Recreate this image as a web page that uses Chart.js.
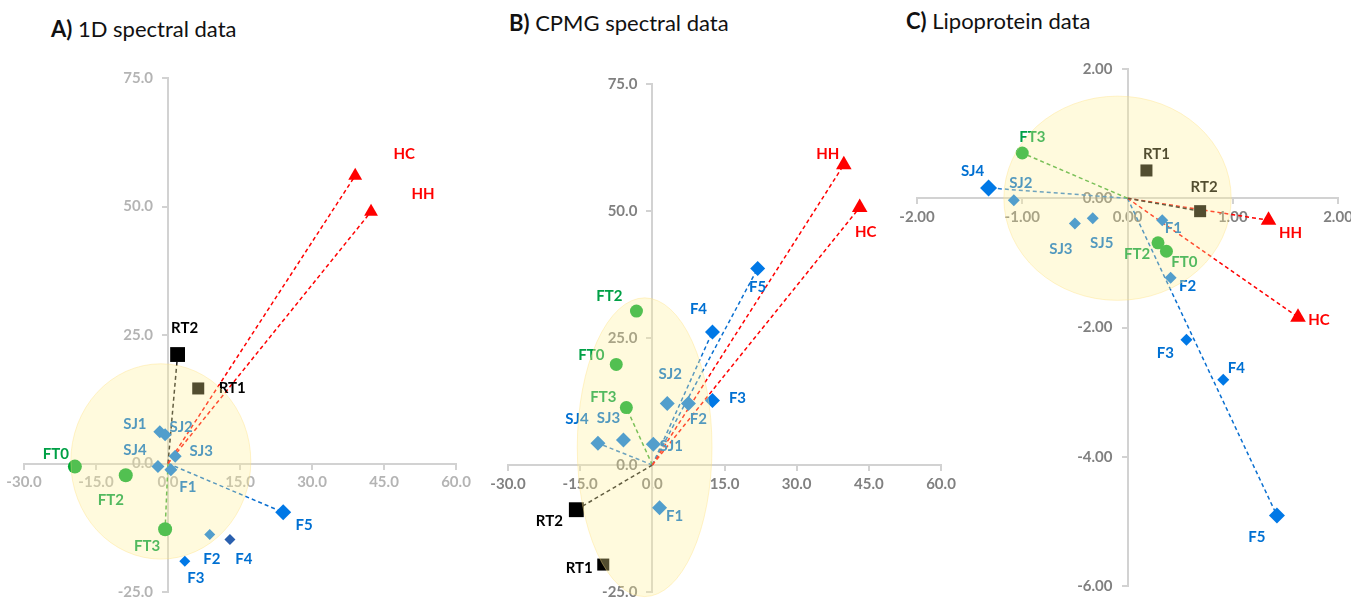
<!DOCTYPE html>
<html>
<head>
<meta charset="utf-8">
<script src="https://cdn.jsdelivr.net/npm/chart.js@4.4.0/dist/chart.umd.min.js"></script>
<style>
  body { margin: 0; width: 1351px; height: 601px; overflow: hidden; background: #fff; font-family: Lato, sans-serif; }
  .title { position: absolute; font-size: 22px; color: #111; white-space: nowrap; }
  canvas { position: absolute; top: 0; }
</style>
</head>
<body>
<div class="title" style="left:51px; top:15px;"><b>A)</b> 1D spectral data</div>
<div class="title" style="left:509px; top:9px;"><b>B)</b> CPMG spectral data</div>
<div class="title" style="left:906px; top:7px;"><b>C)</b> Lipoprotein data</div>
<canvas id="chartA" width="480" height="610" style="left:0px"></canvas>
<canvas id="chartB" width="495" height="610" style="left:470px"></canvas>
<canvas id="chartC" width="480" height="610" style="left:880px"></canvas>
<script>
// A) 1D spectral data - scores
const namesA = ["HC", "HH", "RT2", "RT1", "SJ1", "SJ2", "SJ3", "SJ4", "F1", "F2", "F3", "F4", "F5", "FT0", "FT2", "FT3"];
const xA = [39.0, 42.3, 2.0, 6.3, -1.7, -0.6, 1.5, -2.1, 0.6, 8.7, 3.5, 12.9, 24.0, -19.4, -8.8, -0.6];
const yA = [56.0, 49.0, 21.2, 14.6, 6.2, 5.6, 1.4, -0.6, -1.2, -13.8, -19.0, -14.8, -9.5, -0.6, -2.3, -12.8];
const vectorsA = ["HC", "HH", "RT2", "FT3", "F5"];

// B) CPMG spectral data - scores
const namesB = ["HH", "HC", "F5", "FT2", "F4", "FT0", "FT3", "SJ2", "F2", "F3", "SJ4", "SJ3", "SJ1", "F1", "RT2", "RT1"];
const xB = [39.8, 43.1, 21.9, -3.3, 12.5, -7.5, -5.4, 3.1, 7.5, 12.5, -11.3, -6.0, 0.2, 1.5, -15.8, -10.2];
const yB = [59.1, 50.7, 38.7, 30.3, 26.2, 19.8, 11.3, 12.1, 12.1, 12.7, 4.3, 4.9, 4.1, -8.4, -8.8, -19.6];
const vectorsB = ["HH", "HC", "F5", "F4", "RT2", "FT3", "SJ4"];

// C) Lipoprotein data - scores
const namesC = ["FT3", "SJ4", "SJ2", "RT1", "RT2", "HH", "SJ3", "SJ5", "F1", "FT2", "FT0", "F2", "HC", "F3", "F4", "F5"];
const xC = [-1.00, -1.32, -1.08, 0.18, 0.69, 1.34, -0.50, -0.33, 0.33, 0.29, 0.37, 0.41, 1.62, 0.56, 0.91, 1.42];
const yC = [0.70, 0.16, -0.03, 0.43, -0.20, -0.34, -0.39, -0.31, -0.34, -0.69, -0.82, -1.23, -1.84, -2.19, -2.81, -4.91];
const vectorsC = ["FT3", "SJ4", "RT2", "HH", "HC", "F5"];

// tick labels use Lato bold, set globally
Chart.defaults.font.family = "Lato";
Chart.defaults.font.size = 15;
Chart.defaults.font.weight = "bold";

// marker shape and colours for each sample group
const groupStyle = {
  H:  { shape: "triangle", color: "#ff0000", text: "#ff0000", line: "#ff0000" },
  RT: { shape: "rect", color: "#000000", text: "#000000", line: "#1a1a1a" },
  SJ: { shape: "rectRot", color: "#0078e6", text: "#0070d2", line: "#2a7fd0" },
  F:  { shape: "rectRot", color: "#0078e6", text: "#0070d2", line: "#0a6fd0" },
  FT: { shape: "circle", color: "#00aa32", text: "#00a046", line: "#3caa3c" }
};

function groupOf(name) {
  if (name === "HC" || name === "HH") return "H";
  if (name.startsWith("FT")) return "FT";
  if (name.startsWith("RT")) return "RT";
  if (name.startsWith("SJ")) return "SJ";
  return "F";
}

// where each text label sits relative to its marker (px)
const offsetsA = { HC: [49, -22], HH: [52, -17], RT2: [7, -26], RT1: [34, 0], SJ1: [-25, -7], SJ2: [16, -8],
  SJ3: [26, -5], SJ4: [-23, -16], F1: [17, 17], FT0: [-19, -12], FT2: [-15, 25], FT3: [-18, 17],
  F5: [21, 13], F2: [2, 25], F4: [14, 20], F3: [11, 17] };
const offsetsB = { HH: [-16, -11], HC: [6, 25], F5: [0, 19], FT2: [-27, -15], F4: [-14, -23], FT0: [-25, -9],
  FT3: [-23, -10], SJ2: [3, -29], F2: [10, 16], F3: [25, -2], SJ4: [-21, -24], SJ3: [-15, -22],
  SJ1: [18, 2], F1: [15, 8], RT2: [-27, 11], RT1: [-24, 4] };
const offsetsC = { FT3: [10, -16], SJ4: [-16, -17], SJ2: [7, -17], RT1: [10, -16], RT2: [4, -24], HH: [22, 13],
  SJ3: [-14, 26], SJ5: [9, 25], F1: [11, 8], FT2: [-21, 11], FT0: [18, 11], F2: [17, 8], HC: [21, 3],
  F3: [-21, 13], F4: [13, -12], F5: [-20, 22] };

// marker radius per panel
const radiusA = { H: 8, RT: 8.5, SJ: 6.5, F: 5.5, FT: 7, RT2: 10.5, F5: 8, F1: 6.5 };
const radiusB = { H: 9, RT: 8.5, SJ: 7.5, F: 7.5, FT: 6.5, RT2: 10.5 };
const radiusC = { H: 9, RT: 8.5, SJ: 6, F: 6, FT: 6.5, SJ4: 8.5, F5: 8 };

const panels = [
  { id: "chartA", names: namesA, xs: xA, ys: yA, vectors: vectorsA, offsets: offsetsA, radius: radiusA,
    xr: [-30, 60, 15, 1], yr: [-25, 75, 25, 1], tickColor: "#b4b4b4",
    padding: { left: 24, right: 24, top: 78, bottom: 18 },
    ellipse: { cx: -1.5, cy: 0.4, rx: 18.75, ry: 19 }, colorFix: { F4: "#2a5fae" } },
  { id: "chartB", names: namesB, xs: xB, ys: yB, vectors: vectorsB, offsets: offsetsB, radius: radiusB,
    xr: [-30, 60, 15, 1], yr: [-25, 75, 25, 1], tickColor: "#808080",
    padding: { left: 38, right: 24, top: 84, bottom: 15 },
    ellipse: { cx: -1.6, cy: 3.5, rx: 14, ry: 29.4 }, colorFix: {} },
  { id: "chartC", names: namesC, xs: xC, ys: yC, vectors: vectorsC, offsets: offsetsC, radius: radiusC,
    xr: [-2, 2, 1, 2], yr: [-6, 2, 2, 2], tickColor: "#808080",
    padding: { left: 37, right: 22, top: 69, bottom: 24 },
    ellipse: { cx: -0.095, cy: 0, rx: 1.08, ry: 1.58 }, colorFix: {} }
];

// draws the sample names next to the markers
function labelPlugin(panel) {
  return {
    id: "sampleLabels",
    afterDatasetsDraw(chart) {
      const ctx = chart.ctx;
      const meta = chart.getDatasetMeta(0);
      ctx.save();
      ctx.font = "bold 15px Lato";
      ctx.textAlign = "center";
      ctx.textBaseline = "middle";
      panel.names.forEach((name, i) => {
        const pt = meta.data[i];
        const off = panel.offsets[name] || [12, 0];
        ctx.fillStyle = groupStyle[groupOf(name)].text;
        ctx.fillText(name, pt.x + off[0], pt.y + off[1]);
      });
      ctx.restore();
    }
  };
}

// translucent yellow confidence ellipse laid over the whole plot
function ellipsePlugin(panel) {
  return {
    id: "confEllipse",
    afterDraw(chart) {
      const e = panel.ellipse;
      const sx = chart.scales.x, sy = chart.scales.y;
      const cx = sx.getPixelForValue(e.cx), cy = sy.getPixelForValue(e.cy);
      const rx = Math.abs(sx.getPixelForValue(e.cx + e.rx) - cx);
      const ry = Math.abs(sy.getPixelForValue(e.cy + e.ry) - cy);
      const ctx = chart.ctx;
      ctx.save();
      ctx.beginPath();
      ctx.ellipse(cx, cy, rx, ry, 0, 0, Math.PI * 2);
      ctx.fillStyle = "rgba(255, 238, 150, 0.32)";
      ctx.fill();
      ctx.strokeStyle = "rgba(255, 225, 130, 0.4)";
      ctx.lineWidth = 1;
      ctx.stroke();
      ctx.restore();
    }
  };
}

function axisOptions(range, tickColor, isX) {
  return {
    type: "linear",
    min: range[0],
    max: range[1],
    position: isX ? { y: 0 } : { x: 0 },
    border: { color: "#d2d2d2", width: 2 },
    grid: { drawOnChartArea: false, drawTicks: true, tickLength: 5, color: "#d2d2d2", lineWidth: 2 },
    ticks: {
      stepSize: range[2],
      padding: isX ? 5 : 9,
      maxRotation: 0,
      autoSkip: false,
      color: tickColor,
      font: { family: "Lato", size: 15, weight: "bold" },
      // a crossing y axis puts its labels flush on the line, so pad them with en spaces
      callback: (v) => Number(v).toFixed(range[3]) + (isX ? "" : "\u2002\u2002")
    }
  };
}

function buildChart(panel) {
  const points = panel.names.map((n, i) => ({ x: panel.xs[i], y: panel.ys[i] }));
  const styleOf = (n) => groupStyle[groupOf(n)];

  const datasets = [{
    label: "scores",
    data: points,
    order: 0,
    pointStyle: panel.names.map((n) => styleOf(n).shape),
    backgroundColor: panel.names.map((n) => panel.colorFix[n] || styleOf(n).color),
    borderColor: panel.names.map((n) => panel.colorFix[n] || styleOf(n).color),
    borderWidth: 0,
    pointRadius: panel.names.map((n) => panel.radius[n] || panel.radius[groupOf(n)]),
    pointHoverRadius: 0
  }];

  // dashed vectors from the origin out to selected samples
  panel.vectors.forEach((n) => {
    const i = panel.names.indexOf(n);
    datasets.push({
      label: n,
      data: [{ x: 0, y: 0 }, points[i]],
      order: 1,
      showLine: true,
      borderColor: styleOf(n).line,
      borderWidth: 1.5,
      borderDash: [4, 3],
      pointRadius: 0,
      fill: false
    });
  });

  new Chart(document.getElementById(panel.id), {
    type: "scatter",
    data: { datasets: datasets },
    options: {
      responsive: false,
      animation: false,
      layout: { padding: panel.padding },
      plugins: { legend: { display: false }, tooltip: { enabled: false } },
      scales: {
        x: axisOptions(panel.xr, panel.tickColor, true),
        y: axisOptions(panel.yr, panel.tickColor, false)
      }
    },
    plugins: [labelPlugin(panel), ellipsePlugin(panel)]
  });
}

panels.forEach(buildChart);
</script>
</body>
</html>
